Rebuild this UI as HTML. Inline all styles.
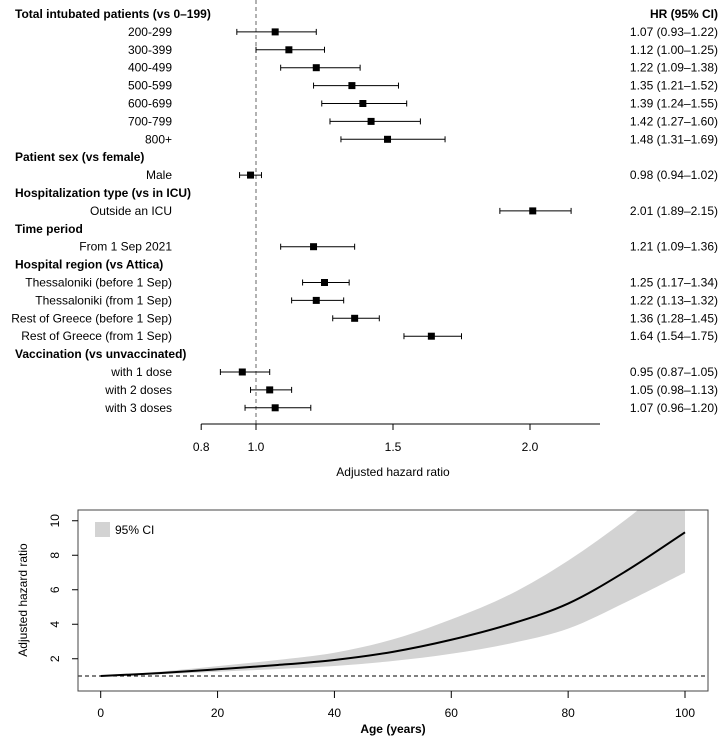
<!DOCTYPE html>
<html><head><meta charset="utf-8"><style>
body{margin:0;background:#fff;}
svg{display:block;font-family:"Liberation Sans",sans-serif;}
</style></head><body>
<svg id="chart" width="721" height="737" viewBox="0 0 721 737">
<g id="forest"></g>
<g id="curve"></g>
</svg>
<script>
// ---- forest plot data ----
const rowLabels = ["Total intubated patients (vs 0–199)","200-299","300-399","400-499","500-599","600-699","700-799","800+","Patient sex (vs female)","Male","Hospitalization type (vs in ICU)","Outside an ICU","Time period","From 1 Sep 2021","Hospital region (vs Attica)","Thessaloniki (before 1 Sep)","Thessaloniki (from 1 Sep)","Rest of Greece (before 1 Sep)","Rest of Greece (from 1 Sep)","Vaccination (vs unvaccinated)","with 1 dose","with 2 doses","with 3 doses"];
const hr  = [null,1.07,1.12,1.22,1.35,1.39,1.42,1.48,null,0.98,null,2.01,null,1.21,null,1.25,1.22,1.36,1.64,null,0.95,1.05,1.07];
const lo  = [null,0.93,1.00,1.09,1.21,1.24,1.27,1.31,null,0.94,null,1.89,null,1.09,null,1.17,1.13,1.28,1.54,null,0.87,0.98,0.96];
const hi  = [null,1.22,1.25,1.38,1.52,1.55,1.60,1.69,null,1.02,null,2.15,null,1.36,null,1.34,1.32,1.45,1.75,null,1.05,1.13,1.20];
const forestTicks = [0.8,1.0,1.5,2.0];
const forestTickLabels = ["0.8","1.0","1.5","2.0"];
// ---- age curve data ----
const ages  = [0,10,20,30,40,50,60,70,80,90,100];
const fit   = [1,1.17,1.39,1.63,1.93,2.4,3.1,4.0,5.2,7.1,9.33];
const upper = [1,1.25,1.57,1.92,2.35,3.12,4.28,5.72,7.69,10.1,12.9];
const lower = [1,1.1,1.25,1.4,1.58,1.87,2.29,2.88,3.75,5.3,7.0];
const xTicks = [0,20,40,60,80,100];
const yTicks = [2,4,6,8,10];

const NS="http://www.w3.org/2000/svg";
function mk(parent,tag,attrs,text){const e=document.createElementNS(NS,tag);for(const k in attrs)e.setAttribute(k,attrs[k]);if(text!==undefined)e.textContent=text;parent.appendChild(e);return e;}

// Forest
const F=document.getElementById('forest');
const fx=v=>256+(v-1)*274;
const fy=i=>14+i*17.9;
mk(F,'line',{x1:fx(1),x2:fx(1),y1:0,y2:424,stroke:'#666','stroke-dasharray':'4,3','stroke-width':1});
let t=mk(F,'text',{x:718,y:fy(0)+4,'text-anchor':'end','font-size':12,'font-weight':'bold'},"HR (95% CI)");

rowLabels.forEach((lab,i)=>{
  const y=fy(i);
  const isHead=hr[i]===null;
  const el=mk(F,'text',isHead?{x:15,y:y+4,'font-size':12,'font-weight':'bold'}:{x:172,y:y+4,'font-size':12,'text-anchor':'end'},lab);
  
  
  if(!isHead){
    const g=mk(F,'g',{});
    
    
    mk(g,'line',{x1:fx(lo[i]),x2:fx(hi[i]),y1:y,y2:y,stroke:'#000','stroke-width':1});
    mk(g,'line',{x1:fx(lo[i]),x2:fx(lo[i]),y1:y-3,y2:y+3,stroke:'#000','stroke-width':1});
    mk(g,'line',{x1:fx(hi[i]),x2:fx(hi[i]),y1:y-3,y2:y+3,stroke:'#000','stroke-width':1});
    mk(g,'rect',{x:fx(hr[i])-3.5,y:y-3.5,width:7,height:7,fill:'#000'});
    const v=mk(F,'text',{x:718,y:y+4,'font-size':12,'text-anchor':'end'},hr[i].toFixed(2)+" ("+lo[i].toFixed(2)+"–"+hi[i].toFixed(2)+")");
    
    
  }
});
const fa=mk(F,'g',{});


mk(fa,'line',{x1:fx(0.8),x2:600,y1:424,y2:424,stroke:'#000'});
forestTicks.forEach((v,k)=>{
  mk(fa,'line',{x1:fx(v),x2:fx(v),y1:424,y2:430,stroke:'#000'});
  const tl=mk(fa,'text',{x:fx(v),y:451,'font-size':12,'text-anchor':'middle'},forestTickLabels[k]);
  
});
t=mk(F,'text',{x:393,y:476,'font-size':12,'text-anchor':'middle'},"Adjusted hazard ratio");


// Age curve
const C=document.getElementById('curve');
const L=78,R=708,T=510,B=691;
const cx=a=>100.7+a*5.843;
const cy=v=>676-(v-1)*17.25;
const defs=mk(C,'defs',{});
const cp=mk(defs,'clipPath',{id:'clipbox'});
mk(cp,'rect',{x:L,y:T,width:R-L,height:B-T});
function segs(xs,ys){let s="";for(let i=0;i<xs.length-1;i++){const x0=xs[Math.max(i-1,0)],y0=ys[Math.max(i-1,0)],x3=xs[Math.min(i+2,xs.length-1)],y3=ys[Math.min(i+2,xs.length-1)];s+=" C"+(xs[i]+(xs[i+1]-x0)/6)+","+(ys[i]+(ys[i+1]-y0)/6)+" "+(xs[i+1]-(x3-xs[i])/6)+","+(ys[i+1]-(y3-ys[i])/6)+" "+xs[i+1]+","+ys[i+1];}return s;}
const axs=ages.map(cx);
const rxs=axs.slice().reverse();
let d="M"+axs[0]+","+cy(upper[0])+segs(axs,upper.map(cy));
d+=" L"+rxs[0]+","+cy(lower[lower.length-1])+segs(rxs,lower.map(cy).reverse())+"Z";
const band=mk(C,'path',{d:d,fill:'#d3d3d3','clip-path':'url(#clipbox)'});

const dl=mk(C,'line',{x1:L,x2:R,y1:cy(1),y2:cy(1),stroke:'#000','stroke-dasharray':'4,3'});

const fys=fit.map(cy);
const fl=mk(C,'path',{d:"M"+axs[0]+","+fys[0]+segs(axs,fys),fill:'none',stroke:'#000','stroke-width':2});

const bx=mk(C,'rect',{x:L,y:T,width:R-L,height:B-T,fill:'none',stroke:'#444','stroke-width':1});

const lg=mk(C,'g',{});

mk(lg,'rect',{x:95,y:522,width:15,height:15,fill:'#d3d3d3'});
mk(lg,'text',{x:115,y:534,'font-size':12},"95% CI");
const xa=mk(C,'g',{});

xTicks.forEach(a=>{
  mk(xa,'line',{x1:cx(a),x2:cx(a),y1:B,y2:B+7,stroke:'#000'});
  const tl=mk(xa,'text',{x:cx(a),y:717,'font-size':12,'text-anchor':'middle'},String(a));
  
});
t=mk(C,'text',{x:393,y:733,'font-size':12,'font-weight':'bold','text-anchor':'middle'},"Age (years)");

const ya=mk(C,'g',{});

yTicks.forEach(v=>{
  mk(ya,'line',{x1:L-6,x2:L,y1:cy(v),y2:cy(v),stroke:'#000'});
  const tl=mk(ya,'text',{x:0,y:0,'font-size':12,'text-anchor':'middle',transform:"translate(59,"+cy(v)+") rotate(-90)"},String(v));
  
});
t=mk(C,'text',{x:0,y:0,'font-size':12,'text-anchor':'middle',transform:"translate(27,600) rotate(-90)"},"Adjusted hazard ratio");

</script>
</body></html>
